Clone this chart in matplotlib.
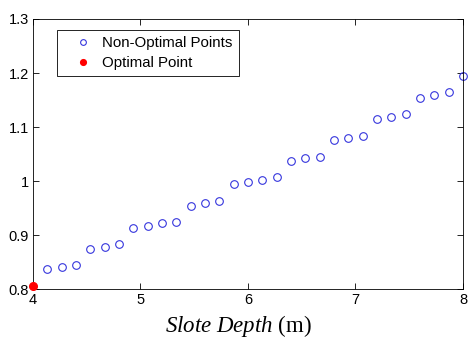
import matplotlib
matplotlib.use('Agg')
from matplotlib import pyplot as plt

plt.rcParams['font.family'] = ['Liberation Sans', 'DejaVu Sans']
plt.rcParams['mathtext.fontset'] = 'custom'
plt.rcParams['mathtext.it'] = 'Liberation Serif:italic'
plt.rcParams['mathtext.rm'] = 'Liberation Serif'

# data
depth = [4.133, 4.267, 4.4, 4.533, 4.667, 4.8, 4.933, 5.067, 5.2, 5.333,
         5.467, 5.6, 5.733, 5.867, 6.0, 6.133, 6.267, 6.4, 6.533, 6.667,
         6.8, 6.933, 7.067, 7.2, 7.333, 7.467, 7.6, 7.733, 7.867, 8.0]
value = [0.837, 0.840, 0.844, 0.875, 0.878, 0.883, 0.913, 0.917, 0.922, 0.925,
         0.954, 0.959, 0.964, 0.994, 0.998, 1.002, 1.007, 1.037, 1.042, 1.044,
         1.076, 1.080, 1.084, 1.115, 1.119, 1.124, 1.154, 1.159, 1.164, 1.194]
opt_depth = [4.0]
opt_value = [0.806]

xticks = [4, 5, 6, 7, 8]
yticks = [0.8, 0.9, 1.0, 1.1, 1.2, 1.3]
yticklabels = ['0.8', '0.9', '1', '1.1', '1.2', '1.3']

fig = plt.figure(figsize=(4.7, 3.45), dpi=100)
ax = fig.add_axes([0.070, 0.162, 0.915, 0.783])

ax.plot(depth, value, 'o', linestyle='none', markerfacecolor='none',
        markeredgecolor='#3535dd', markersize=5.5, markeredgewidth=0.8,
        label='Non-Optimal Points', clip_on=False)
ax.plot(opt_depth, opt_value, 'o', linestyle='none', color='red',
        markersize=5.5, label='Optimal Point', clip_on=False, zorder=5)

ax.set_xlim(4, 8)
ax.set_ylim(0.8, 1.3)
ax.set_xticks(xticks)
ax.set_xticklabels([str(t) for t in xticks])
ax.set_yticks(yticks)
ax.set_yticklabels(yticklabels)
ax.tick_params(direction='in', top=True, right=True, labelsize=10.5, length=4, width=0.6, pad=3)
for s in ax.spines.values():
    s.set_linewidth(0.6)

ax.set_xlabel(r'$\mathit{Slote\ Depth}$ (m)', fontsize=16.5, family='Liberation Serif')
ax.xaxis.set_label_coords(0.477, -0.09, transform=ax.transAxes)
ax.xaxis.label.set_va('top')

leg = ax.legend(loc='upper left', bbox_to_anchor=(0.057, 0.96), borderaxespad=0,
                fontsize=10.8, fancybox=False, framealpha=1, edgecolor='black',
                handlelength=2.6, borderpad=0.4, labelspacing=0.4, handletextpad=0.0,
                markerscale=0.75)
leg.get_frame().set_linewidth(0.6)

fig.savefig('out.png', dpi=100)
